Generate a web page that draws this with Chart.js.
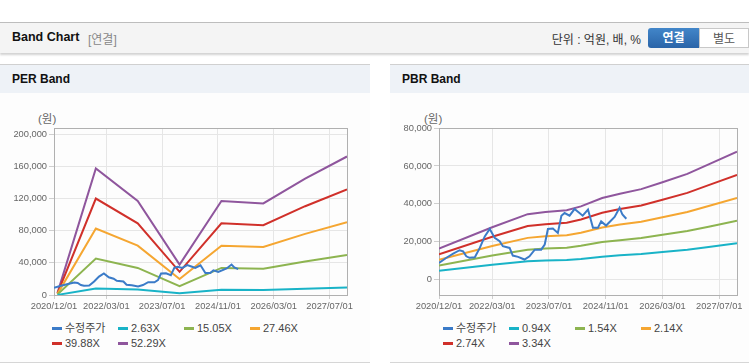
<!DOCTYPE html>
<html>
<head>
<meta charset="utf-8">
<script src="https://cdn.jsdelivr.net/npm/chart.js@4.4.1/dist/chart.umd.min.js"></script>
<style>
  body { margin: 0; width: 749px; height: 364px; background: #fff; position: relative; overflow: hidden;
         font-family: 'Liberation Sans', 'Noto Sans CJK KR', sans-serif; }
  .topbar { position: absolute; left: 0; top: 22px; width: 749px; height: 30px; background: #f4f4f4;
            border-top: 1px solid #bdbdbd; box-shadow: 0 2px 2px rgba(0,0,0,0.18); }
  .topbar .title { position: absolute; left: 12px; top: 7px; font-size: 12.5px; font-weight: bold; color: #111; }
  .topbar .sub { position: absolute; left: 88px; top: 7px; font-size: 12px; color: #888; }
  .topbar .unit { position: absolute; right: 108px; top: 7px; font-size: 12px; color: #333; }
  .btn { position: absolute; top: 5px; height: 20px; line-height: 20px; text-align: center; font-size: 12px; box-sizing: border-box; }
  .btn.on { left: 648px; width: 51px; background: linear-gradient(#4286c9, #2a64a8); color: #fff; font-weight: bold; border-radius: 3px 0 0 3px; }
  .btn.off { left: 699px; width: 50px; background: #fff; color: #555; border: 1px solid #c8c8c8; }
  .panel { position: absolute; top: 64px; height: 298px; background: #fdfdfd; border-bottom: 1px solid #d6d6d6; }
  .panel .head { height: 28px; border-top: 1px solid #d0d0d0; background: #eef2f7; position: relative; }
  .panel .head span { position: absolute; left: 12px; top: 7px; font-size: 12px; font-weight: bold; color: #111; }
  .unitlabel { position: absolute; top: 110px; font-size: 11.5px; color: #666; }
  canvas { position: absolute; }
  .legend { position: absolute; top: 321px; font-size: 11px; color: #444; }
  .legend .item { position: absolute; white-space: nowrap; height: 15px; line-height: 15px; }
  .legend .mark { display: inline-block; width: 10px; height: 3px; vertical-align: middle; margin-right: 3px; position: relative; top: -1px; }
</style>
</head>
<body>
<div class="topbar">
  <span class="title">Band Chart</span><span class="sub">[연결]</span>
  <span class="unit">단위 : 억원, 배, %</span>
  <div class="btn on">연결</div><div class="btn off">별도</div>
</div>
<div class="panel" style="left:0;width:370px;"><div class="head"><span>PER Band</span></div></div>
<div class="panel" style="left:390px;width:359px;"><div class="head"><span>PBR Band</span></div></div>
<div class="unitlabel" style="left:38px;">(원)</div>
<div class="unitlabel" style="left:424px;">(원)</div>
<canvas id="perChart" style="left:0;top:100px;" width="370" height="216"></canvas>
<canvas id="pbrChart" style="left:390px;top:100px;" width="359" height="216"></canvas>
<div class="legend" id="perLegend" style="left:52px;"></div>
<div class="legend" id="pbrLegend" style="left:443px;"></div>
<script>
// months counted from 2020/12
const tickMonths = [0, 15, 31, 47, 63, 79];
const tickLabels = ['2020/12/01', '2022/03/01', '2023/07/01', '2024/11/01', '2026/03/01', '2027/07/01'];

const priceMonths = [0, 2, 4, 5.8, 6.8, 7.7, 8.6, 10.1, 11.5, 12.9, 14.3, 15.7, 17.1, 18, 19.9, 20.8, 22.3, 24.1,
  25.5, 27, 28.8, 29.8, 30.7, 32.1, 33.5, 34.5, 35.4, 36.8, 38.2, 39.6, 40.5, 42, 43.4, 44.8, 45.7, 47.1, 49.5, 50.9, 51.7, 52.8];
const priceValues = [8900, 11500, 13800, 15600, 15000, 12400, 11600, 11900, 16800, 22900, 26800, 22100, 20300, 17700, 16800, 12800, 12100, 10700,
  12400, 15900, 15900, 18600, 26800, 27000, 24700, 33800, 35200, 33800, 37300, 35200, 33800, 37000, 27400, 27400, 30800, 28600, 33100, 37900, 34400, 32200];

const perNames = ['수정주가', '2.63X', '15.05X', '27.46X', '39.88X', '52.29X'];
const perMonths = [1, 12, 24, 36, 48, 60, 72, 84];
const per263 = [150, 8200, 6800, 2100, 6500, 6300, 7800, 9300];
const per1505 = [750, 45300, 33700, 10900, 33700, 32800, 41700, 49700];
const per2746 = [1400, 82700, 61450, 19900, 61450, 59850, 76100, 90600];
const per3988 = [2000, 120100, 89250, 28900, 89250, 86900, 110600, 131600];
const per5229 = [2600, 157500, 117000, 37900, 117000, 114000, 145000, 172500];
const perYTicks = [0, 40000, 80000, 120000, 160000, 200000];

const pbrNames = ['수정주가', '0.94X', '1.54X', '2.14X', '2.74X', '3.34X'];
const pbrMonths = [0, 15, 25, 30, 36, 40, 46, 51, 57, 63, 70, 76, 84];
const pbr094 = [4800, 7900, 9800, 10200, 10500, 11000, 12200, 12900, 13600, 14600, 15900, 17300, 19300];
const pbr154 = [7500, 12800, 15900, 16500, 16900, 17900, 19900, 20900, 22000, 23700, 25700, 28000, 31100];
const pbr214 = [10500, 17800, 22100, 22900, 23500, 24800, 27600, 29100, 30600, 33000, 35700, 38900, 43200];
const pbr274 = [13400, 22700, 28400, 29300, 30100, 31800, 35300, 37300, 39200, 42200, 45800, 49900, 55300];
const pbr334 = [16400, 27700, 34600, 35700, 36700, 38700, 43100, 45400, 47800, 51400, 55800, 60800, 67500];
const pbrYTicks = [0, 20000, 40000, 60000, 80000];

const colors = ['#3b7bc8', '#19b3c7', '#8db450', '#f5a631', '#d0302a', '#8f569d'];

Chart.defaults.font.family = "'Liberation Sans', 'Noto Sans CJK KR', sans-serif";

function pts(months, values) {
  return months.map((m, i) => ({ x: m, y: values[i] }));
}

const boxPlugin = {
  id: 'box',
  beforeDatasetsDraw(chart) {
    const a = chart.chartArea, ctx = chart.ctx;
    ctx.save();
    ctx.strokeStyle = '#b0b0b0';
    ctx.lineWidth = 1;
    ctx.strokeRect(Math.round(a.left) + 0.5, Math.round(a.top) + 0.5, Math.round(a.right - a.left), Math.round(a.bottom - a.top));
    ctx.restore();
  }
};

function makeChart(id, names, series, yMin, yMax, yTicks, yWidth, padRight) {
  const datasets = series.map((s, i) => ({
    label: names[i],
    data: s,
    borderColor: colors[i],
    backgroundColor: colors[i],
    borderWidth: 2,
    pointRadius: 0,
    tension: 0,
    order: i === 0 ? 0 : 1
  }));
  new Chart(document.getElementById(id), {
    type: 'line',
    data: { datasets: datasets },
    options: {
      responsive: false,
      animation: false,
      layout: { padding: { left: 0, top: 28, right: padRight, bottom: 1 } },
      plugins: { legend: { display: false }, tooltip: { enabled: false } },
      scales: {
        x: {
          type: 'linear', min: 0, max: 84,
          afterBuildTicks: axis => { axis.ticks = tickMonths.map(v => ({ value: v })); },
          afterFit: axis => { axis.height = 20; },
          grid: { color: '#e6e6e6', tickColor: '#cfcfcf', tickLength: 4 },
          border: { display: false },
          ticks: { autoSkip: false, maxRotation: 0, padding: 2, color: '#666', font: { size: 9.3 },
                   callback: v => tickLabels[tickMonths.indexOf(v)] }
        },
        y: {
          min: yMin, max: yMax,
          afterBuildTicks: axis => { axis.ticks = yTicks.map(v => ({ value: v })); },
          afterFit: axis => { axis.width = yWidth; },
          grid: { color: '#e6e6e6', tickColor: '#cfcfcf', tickLength: 5 },
          border: { display: false },
          ticks: { padding: 2, color: '#666', font: { size: 9.3 }, callback: v => v.toLocaleString('en-US') }
        }
      }
    },
    plugins: [boxPlugin]
  });
}

function makeLegend(id, names) {
  const el = document.getElementById(id);
  names.forEach((n, i) => {
    const d = document.createElement('div');
    d.className = 'item';
    d.style.left = ((i % 4) * 66) + 'px';
    d.style.top = (Math.floor(i / 4) * 15) + 'px';
    d.innerHTML = '<span class="mark" style="background:' + colors[i] + '"></span>' + n;
    el.appendChild(d);
  });
}

makeChart('perChart', perNames, [
  pts(priceMonths, priceValues), pts(perMonths, per263), pts(perMonths, per1505),
  pts(perMonths, per2746), pts(perMonths, per3988), pts(perMonths, per5229)
], 0, 208000, perYTicks, 54, 23);

makeChart('pbrChart', pbrNames, [
  pts(priceMonths, priceValues), pts(pbrMonths, pbr094), pts(pbrMonths, pbr154),
  pts(pbrMonths, pbr214), pts(pbrMonths, pbr274), pts(pbrMonths, pbr334)
], -8000, 80000, pbrYTicks, 49, 12);

makeLegend('perLegend', perNames);
makeLegend('pbrLegend', pbrNames);
</script>
</body>
</html>
